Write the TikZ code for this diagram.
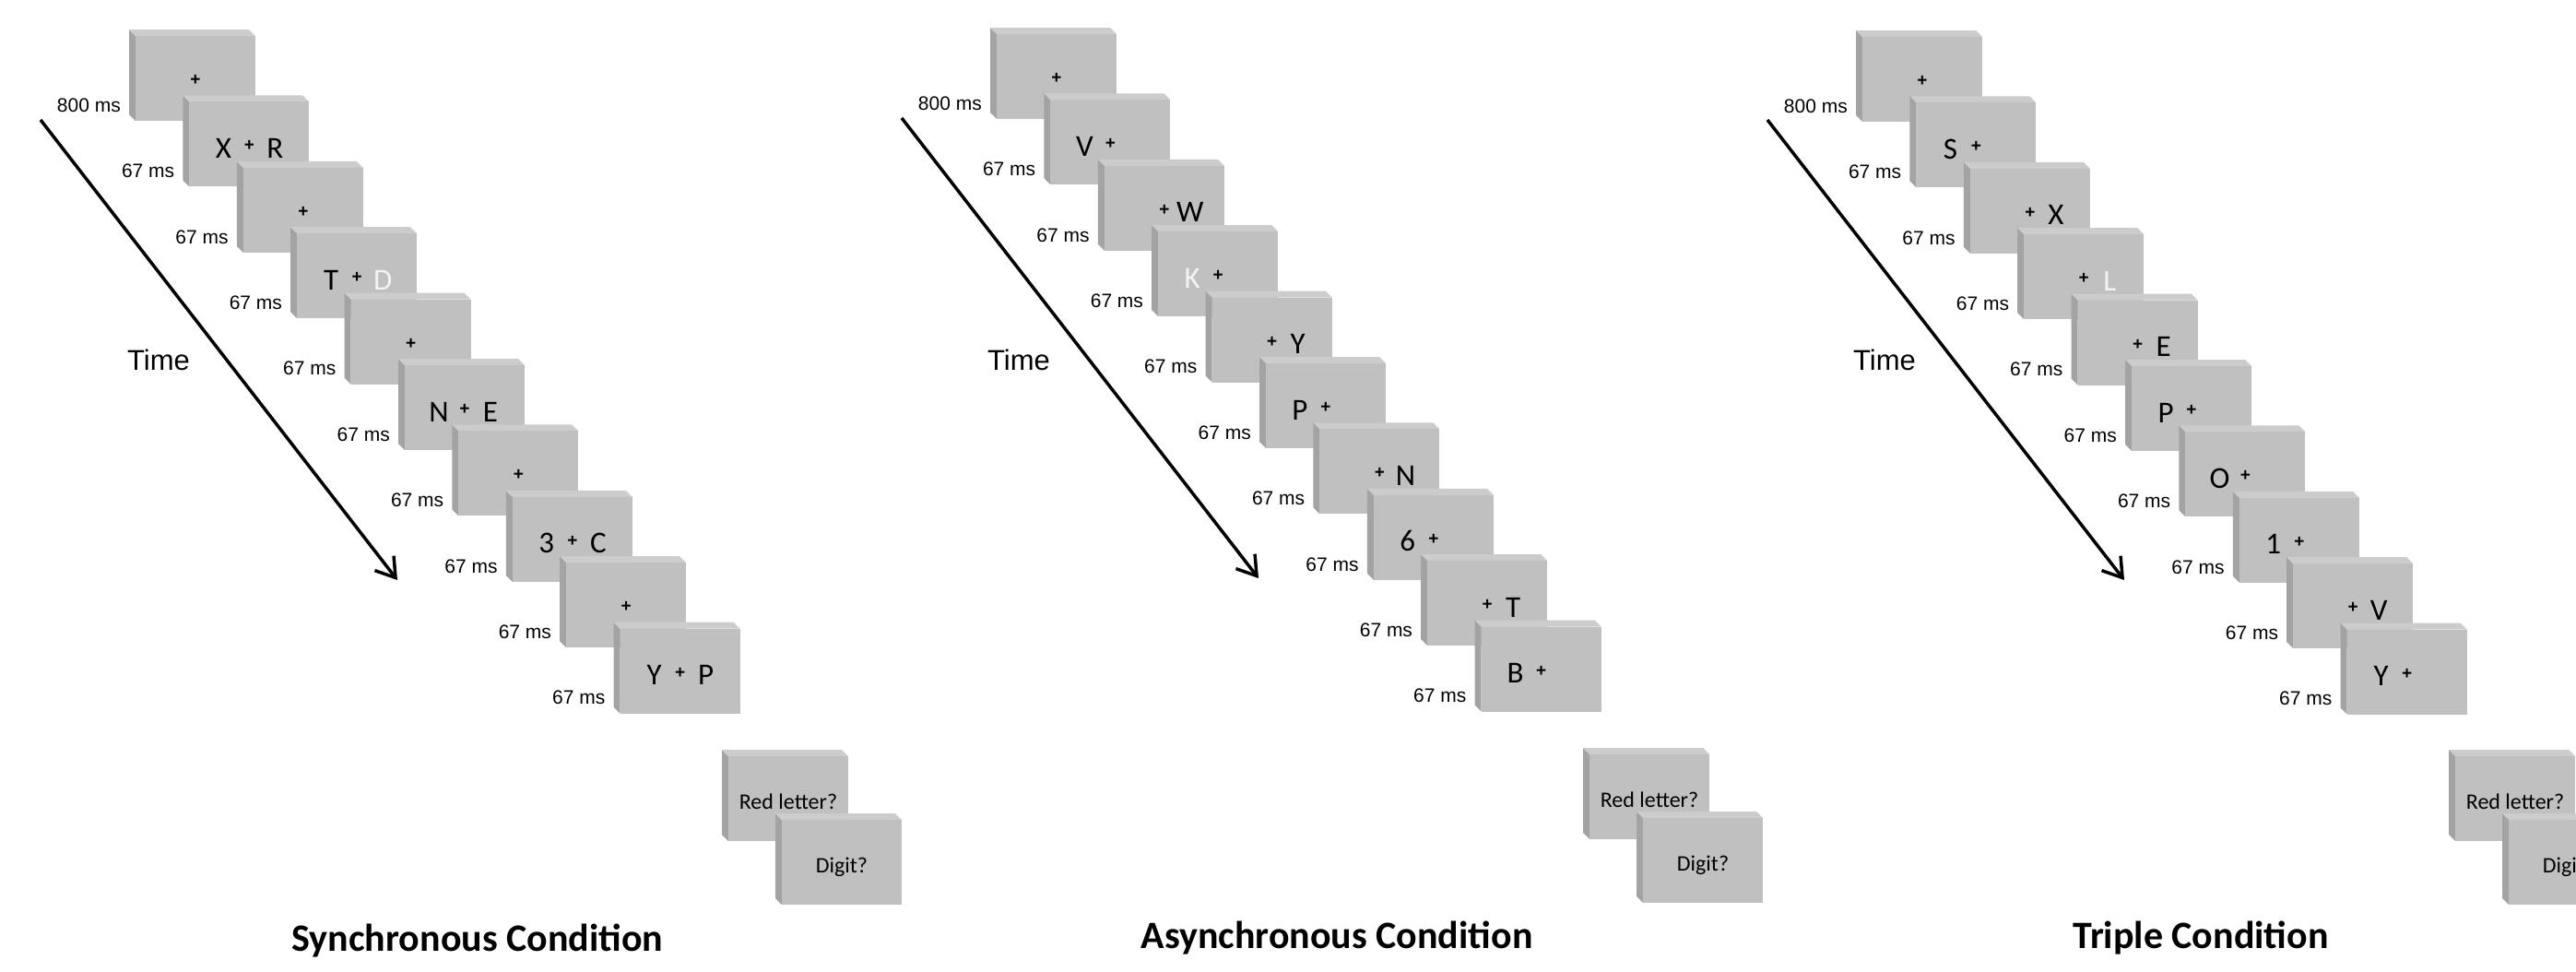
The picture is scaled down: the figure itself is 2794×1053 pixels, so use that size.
\documentclass[tikz,border=0pt]{standalone}
\usepackage{fontspec}
\setmainfont{Liberation Sans}
\newfontfamily\calfont{Carlito}
\usetikzlibrary{calc,arrows.meta}
\definecolor{frontcol}{RGB}{192,192,192}
\definecolor{sidecol}{RGB}{163,163,163}
\definecolor{topcol}{RGB}{204,204,204}
\definecolor{hilite}{RGB}{244,244,244}
\tikzset{
 frontface/.style={fill=frontcol, minimum width=130pt, minimum height=92pt, inner sep=0pt, outer sep=0pt},
 sideface/.style={fill=sidecol},
 topface/.style={fill=topcol},
 plussign/.style={font=\fontsize{19}{19}\selectfont\bfseries, inner sep=0pt},
 letter/.style={font=\calfont\fontsize{33}{33}\selectfont, inner sep=0pt, anchor=base},
 timelab/.style={font=\fontsize{21}{21}\selectfont, inner sep=0pt, anchor=east},
 timeword/.style={font=\fontsize{31}{31}\selectfont, inner sep=0pt},
 question/.style={font=\calfont\fontsize{24}{24}\selectfont, inner sep=0pt, anchor=base},
 condtitle/.style={font=\calfont\bfseries\fontsize{42}{42}\selectfont, inner sep=0pt, anchor=base},
 timearrow/.style={line width=3.5pt, -{Straight Barb[length=20pt,width=26pt,line width=3.5pt]}},
}
% #1 name, #2 index, #3 left letter, #4 right letter, #5 duration
\newcommand\stim[5]{%
 \pgfmathsetmacro\bx{\px+58.4*#2}%
 \pgfmathsetmacro\by{\py+71.4*#2}%
 \fill[sideface] (\bx,\by) -- ++(7,7) -- ++(0,92) -- ++(-7,-7) -- cycle;
 \fill[topface] (\bx,\by) -- ++(130,0) -- ++(7,7) -- ++(-130,0) -- cycle;
 \node[frontface] (#1) at (\bx+72,\by+53) {};
 \node[plussign] (#1-p) at ($(#1.center)+(0,2)$) {+};
 \if\relax\detokenize{#3}\relax\else\node[letter] (#1-l) at ($(#1.center)+(-28,15)$) {#3};\fi
 \if\relax\detokenize{#4}\relax\else\node[letter] (#1-r) at ($(#1.center)+(28,15)$) {#4};\fi
 \node[timelab] (#1-t) at (\bx-9,\by+82) {#5};
}
% #1 name, #2 dx, #3 dy, #4 text
\newcommand\resp[4]{%
 \pgfmathsetmacro\bx{\px+#2}%
 \pgfmathsetmacro\by{\py+#3}%
 \fill[sideface] (\bx,\by) -- ++(7,7) -- ++(0,92) -- ++(-7,-7) -- cycle;
 \fill[topface] (\bx,\by) -- ++(130,0) -- ++(7,7) -- ++(-130,0) -- cycle;
 \node[frontface] (#1) at (\bx+72,\by+53) {};
 \node[question] (#1-q) at ($(#1.center)+(0,11)$) {#4};
}
\begin{document}
\begin{tikzpicture}[x=1pt,y=-1pt]
\useasboundingbox (0,0) rectangle (2794,1053);
% ---------------- Synchronous ----------------
\def\px{140}\def\py{32}
\stim{sa0}{0}{}{}{800 ms}
\stim{sa1}{1}{X}{R}{67 ms}
\stim{sa2}{2}{}{}{67 ms}
\stim{sa3}{3}{T}{\textcolor{hilite}{D}}{67 ms}
\stim{sa4}{4}{}{}{67 ms}
\stim{sa5}{5}{N}{E}{67 ms}
\stim{sa6}{6}{}{}{67 ms}
\stim{sa7}{7}{3}{C}{67 ms}
\stim{sa8}{8}{}{}{67 ms}
\stim{sa9}{9}{Y}{P}{67 ms}
\resp{sared}{643}{781}{Red letter?}
\resp{sadig}{701}{850}{Digit?}
\coordinate (sa-from) at (\px-96,\py+98);
\coordinate (sa-to) at (\px+291,\py+597);
\draw[timearrow] (sa-from) -- (sa-to);
\node[timeword] (sa-time) at (\px+32,\py+358) {Time};
\node[condtitle] (sa-title) at (\px+378,1031) {Synchronous Condition};
% ---------------- Asynchronous ----------------
\def\px{1074}\def\py{30}
\stim{as0}{0}{}{}{800 ms}
\stim{as1}{1}{V}{}{67 ms}
\stim{as2}{2}{}{W}{67 ms}
\stim{as3}{3}{\textcolor{hilite}{K}}{}{67 ms}
\stim{as4}{4}{}{Y}{67 ms}
\stim{as5}{5}{P}{}{67 ms}
\stim{as6}{6}{}{N}{67 ms}
\stim{as7}{7}{6}{}{67 ms}
\stim{as8}{8}{}{T}{67 ms}
\stim{as9}{9}{B}{}{67 ms}
\resp{asred}{643}{781}{Red letter?}
\resp{asdig}{701}{850}{Digit?}
\coordinate (as-from) at (\px-96,\py+98);
\coordinate (as-to) at (\px+291,\py+597);
\draw[timearrow] (as-from) -- (as-to);
\node[timeword] (as-time) at (\px+31,\py+360) {Time};
\node[condtitle] (as-title) at (\px+376,1028) {Asynchronous Condition};
% ---------------- Triple ----------------
\def\px{2013}\def\py{33}
\stim{tr0}{0}{}{}{800 ms}
\stim{tr1}{1}{S}{}{67 ms}
\stim{tr2}{2}{}{X}{67 ms}
\stim{tr3}{3}{}{\textcolor{hilite}{L}}{67 ms}
\stim{tr4}{4}{}{E}{67 ms}
\stim{tr5}{5}{P}{}{67 ms}
\stim{tr6}{6}{O}{}{67 ms}
\stim{tr7}{7}{1}{}{67 ms}
\stim{tr8}{8}{}{V}{67 ms}
\stim{tr9}{9}{Y}{}{67 ms}
\resp{trred}{643}{780}{Red letter?}
\resp{trdig}{701}{849}{Digit?}
\coordinate (tr-from) at (\px-96,\py+97);
\coordinate (tr-to) at (\px+291,\py+596);
\draw[timearrow] (tr-from) -- (tr-to);
\node[timeword] (tr-time) at (\px+31,\py+357) {Time};
\node[condtitle] (tr-title) at (\px+374,1028) {Triple Condition};
\end{tikzpicture}
\end{document}
